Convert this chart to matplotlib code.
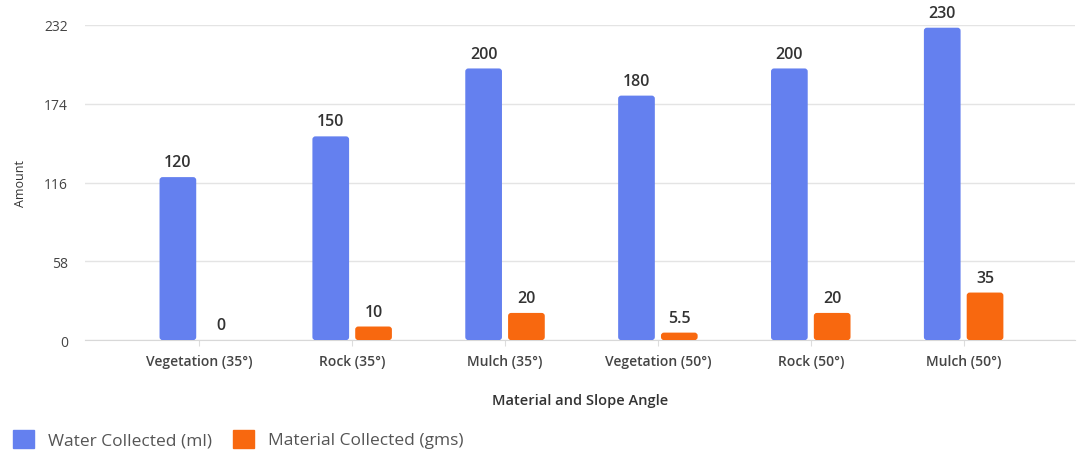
import numpy as np
import matplotlib
matplotlib.use('Agg')
import matplotlib.pyplot as plt
from matplotlib.patches import FancyBboxPatch, Patch

plt.rcParams['font.family'] = ['Open Sans', 'DejaVu Sans']

# data
categories = ['Vegetation (35°)', 'Rock (35°)', 'Mulch (35°)',
              'Vegetation (50°)', 'Rock (50°)', 'Mulch (50°)']
water = [120, 150, 200, 180, 200, 230]
material = [0, 10, 20, 5.5, 20, 35]
water_labels = ['120', '150', '200', '180', '200', '230']
material_labels = ['0', '10', '20', '5.5', '20', '35']
yticks = [0, 58, 116, 174, 232]

blue = '#6480EF'
orange = '#F8680F'

fig = plt.figure(figsize=(10.85, 4.56), dpi=100)
ax = fig.add_axes([0.078, 0.252, 0.913, 0.691])

x = np.arange(len(categories))
w = 0.24
off = 0.14
b1 = ax.bar(x - off, water, w, color=blue, zorder=3)
b2 = ax.bar(x + off, material, w, color=orange, zorder=3)

# swap plain rectangles for rounded ones
for cont, col in [(b1, blue), (b2, orange)]:
    for r in cont.patches:
        r.set_visible(False)
        if r.get_height() <= 0:
            continue
        fb = FancyBboxPatch((r.get_x(), r.get_y()), r.get_width(), r.get_height(),
                            boxstyle='round,pad=0,rounding_size=0.02',
                            mutation_aspect=110, fc=col, ec='none', zorder=3)
        ax.add_patch(fb)

for i in range(len(categories)):
    ax.annotate(water_labels[i], (x[i] - off, water[i]), xytext=(0, 5),
                textcoords='offset points', ha='center', va='bottom',
                fontsize=11.5, fontweight='semibold', color='#333333')
    ax.annotate(material_labels[i], (x[i] + off, material[i]), xytext=(0, 5),
                textcoords='offset points', ha='center', va='bottom',
                fontsize=11.5, fontweight='semibold', color='#333333')

ax.set_xlim(-0.75, 5.73)
ax.set_ylim(0, 232)
ax.set_yticks(yticks)
ax.set_xticks(x)
ax.set_xticklabels(categories, fontsize=10, color='#444444', fontweight='semibold')
ax.tick_params(axis='y', length=0, labelsize=10, labelcolor='#444444', pad=12)
ax.tick_params(axis='x', length=4, color='#dddddd', pad=6)
ax.grid(axis='y', color='#e4e4e4', lw=1, zorder=0)
for s in ['top', 'right', 'left']:
    ax.spines[s].set_visible(False)
ax.spines['bottom'].set_color('#d8d8d8')

ax.set_ylabel('Amount', fontsize=9, color='#333333', labelpad=12)
ax.set_xlabel('Material and Slope Angle', fontsize=10.5, color='#333333',
              fontweight='semibold', labelpad=18)

handles = [Patch(color=blue, label='Water Collected (ml)'),
           Patch(color=orange, label='Material Collected (gms)')]
fig.legend(handles=handles, loc='lower left', bbox_to_anchor=(-0.002, -0.02),
           ncol=2, frameon=False, fontsize=12.5, handlelength=1.2, handleheight=1.2,
           handletextpad=0.8, columnspacing=1.2, labelcolor='#555555')

fig.savefig('out.png', dpi=100)
